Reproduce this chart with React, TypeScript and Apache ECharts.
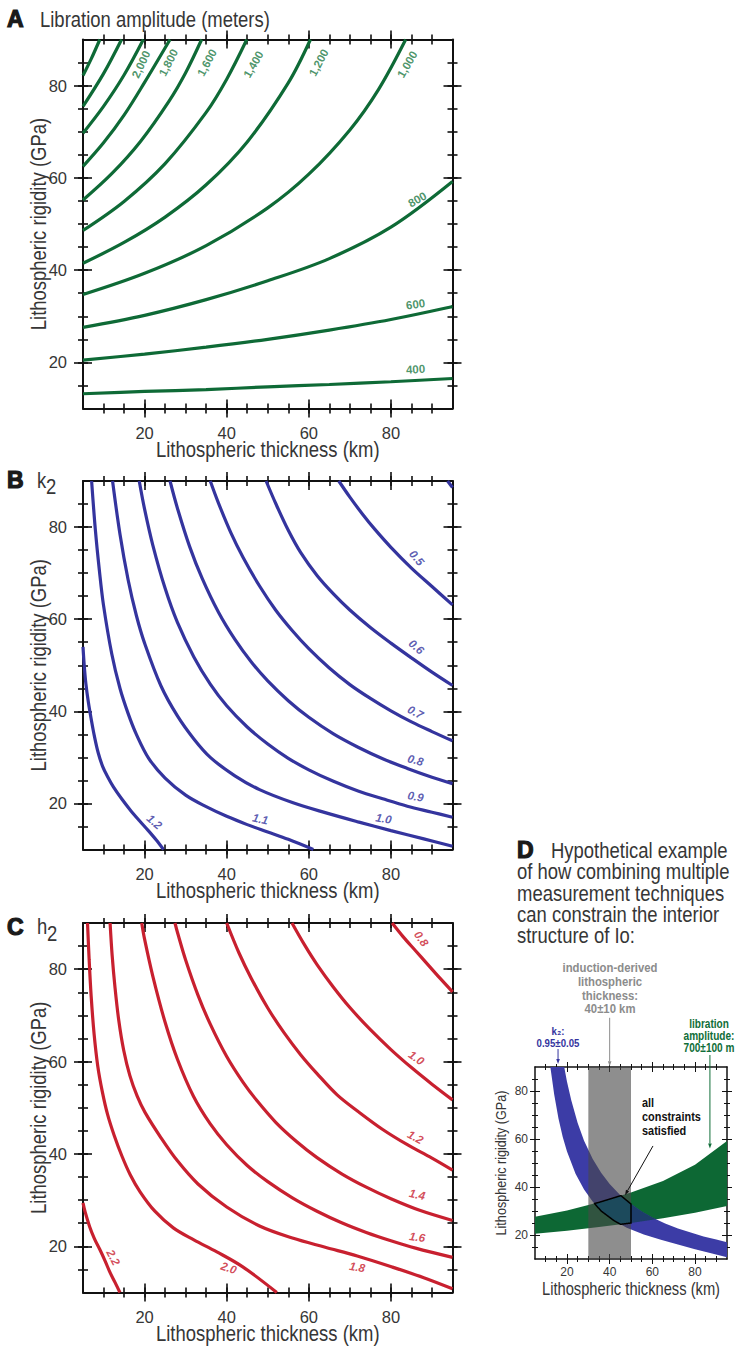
import React, { useEffect, useRef } from "react";
import * as echarts from "echarts";

// ---------- axes ----------
const THICKNESS_RANGE = [5, 95];
const RIGIDITY_RANGE = [10, 90];
const MAJOR_TICKS = [20, 40, 60, 80];
const X_MINOR_TICKS = [10, 15, 20, 25, 30, 35, 40, 45, 50, 55, 60, 65, 70, 75, 80, 85, 90];
const Y_MINOR_TICKS = [15, 20, 25, 30, 35, 40, 45, 50, 55, 60, 65, 70, 75, 80, 85];

// ---------- Panel A: libration amplitude contours (m), points [thickness km, rigidity GPa] ----------
const LIB_400 = [[5, 13.2], [20, 13.7], [35, 14.1], [50, 14.7], [65, 15.2], [80, 15.8], [95, 16.5]];
const LIB_600 = [[5, 20.5], [20, 21.8], [35, 23.3], [50, 25.0], [65, 27.0], [80, 29.3], [95, 32.1]];
const LIB_800 = [[5, 27.6], [20, 30.2], [35, 33.6], [50, 37.7], [65, 42.5], [80, 49.3], [95, 59.2]];
const LIB_1000 = [[5, 34.7], [20, 39.3], [35, 45.3], [50, 53.5], [60, 60.8], [70, 70.4], [77, 79.2], [83.6, 90]];
const LIB_1200 = [[5, 41.5], [15, 46.0], [25, 51.5], [35, 58.5], [45, 67.8], [55, 80.6], [60.4, 90]];
const LIB_1400 = [[5, 48.6], [15, 54.9], [25, 63.1], [35, 74.2], [40, 81.4], [44.9, 90]];
const LIB_1600 = [[5, 55.2], [12, 60.9], [19, 67.9], [26, 76.7], [30, 82.8], [33.9, 90]];
const LIB_1800 = [[5, 62.5], [10, 67.6], [15, 73.6], [20, 80.7], [26.2, 90]];
const LIB_2000 = [[5, 69.7], [10, 75.5], [15, 82.3], [19.7, 90]];
const LIB_2200 = [[5, 75.5], [10, 82.6], [14.4, 90]];
const LIB_2400 = [[5, 82.2], [7, 85.8], [9.1, 90]];
const LIB_LABELS = [
  { text: "2,000", at: [19.1, 84.6], angle: 65 },
  { text: "1,800", at: [25.8, 85.0], angle: 63 },
  { text: "1,600", at: [35.2, 85.0], angle: 62 },
  { text: "1,400", at: [46.5, 84.6], angle: 60 },
  { text: "1,200", at: [62.4, 85.0], angle: 62 },
  { text: "1,000", at: [84.0, 84.6], angle: 60 },
  { text: "800", at: [86.4, 55.3], angle: 30 },
  { text: "600", at: [86.0, 32.6], angle: 8 },
  { text: "400", at: [86.0, 18.5], angle: 3 },
];

// ---------- Panel B: k2 contours ----------
const K2_120 = [[5, 54], [5.3, 50], [5.7, 46], [6.3, 42], [7, 38.3], [7.8, 34.5], [8.7, 31], [9.8, 28], [11, 25.8], [12.4, 23.6], [14.5, 20.9], [16.5, 18.6], [18.7, 16.3], [20.9, 14.1], [22.8, 12.1], [24.6, 10]];
const K2_110 = [[7.1, 90], [8, 79.5], [9, 70.5], [10, 63], [12, 52.5], [14, 45], [16, 39.5], [18, 35], [21, 29.8], [25, 25.5], [30, 21.8], [35, 19.3], [40, 17.2], [45, 15.4], [50, 13.8], [55, 12.2], [61.1, 10]];
const K2_100 = [[12.2, 90], [14, 78.5], [16, 68.5], [18, 60.8], [20, 54.8], [24, 45.5], [28, 39], [32, 34], [36, 30], [42, 26], [48, 23], [56, 20.2], [64, 18], [72, 16], [80, 14.1], [88, 12.3], [95, 10.7]];
const K2_090 = [[18.7, 90], [20, 83.9], [22, 76.1], [25, 66.7], [28, 59.3], [32, 51.8], [36, 45.9], [40, 41.2], [45, 36.6], [50, 32.9], [55, 29.8], [60, 27.3], [66, 24.8], [72, 22.7], [78, 21.0], [84, 19.4], [90, 18.1], [95, 17.0]];
const K2_080 = [[26.2, 90], [28, 84.1], [31, 75.7], [34, 68.9], [38, 61.5], [42, 55.6], [46, 50.7], [50, 46.6], [55, 42.3], [60, 38.7], [66, 35.1], [72, 32.2], [78, 29.7], [84, 27.6], [90, 25.7], [95, 24.3]];
const K2_070 = [[36, 90], [38, 85.2], [41, 78.8], [44, 73.4], [48, 67.2], [52, 61.9], [56, 57.5], [60, 53.6], [65, 49.4], [70, 45.8], [75, 42.8], [80, 40.1], [85, 37.7], [90, 35.6], [95, 33.6]];
const K2_060 = [[49.6, 90], [52, 85], [55, 79.3], [58, 74.5], [62, 69.5], [66, 65.5], [70, 62], [75, 58.2], [80, 54.8], [85, 51.6], [90, 48.5], [95, 45.6]];
const K2_050 = [[67.3, 90], [70, 86.5], [73, 82.9], [76, 79.6], [80, 75.6], [85, 71.1], [90, 67.1], [95, 63.1]];
const K2_040 = [[93.8, 90], [95, 88.6]];
const K2_LABELS = [
  { text: "0.5", at: [86.3, 73.3], angle: -50 },
  { text: "0.6", at: [86.2, 54.0], angle: -40 },
  { text: "0.7", at: [86, 39.8], angle: -28 },
  { text: "0.8", at: [86, 29.4], angle: -15 },
  { text: "0.9", at: [86, 21.5], angle: -10 },
  { text: "1.0", at: [78.2, 16.7], angle: -10 },
  { text: "1.1", at: [48.2, 16.6], angle: -12 },
  { text: "1.2", at: [22.4, 16.0], angle: -40 },
];

// ---------- Panel C: h2 contours ----------
const H2_220 = [[5, 29.4], [5.5, 27.5], [6.6, 24.3], [7.8, 21.6], [9.1, 19.3], [10.4, 16.8], [11.6, 14.3], [12.8, 12.2], [14, 10]];
const H2_200 = [[6.1, 90], [6.5, 82], [7, 74], [7.7, 66], [8.6, 59], [9.7, 53.5], [11, 48.5], [12.6, 44], [14.5, 39.5], [16.5, 35.5], [18.9, 31.8], [22.5, 27.6], [27, 24], [32, 21.4], [37.6, 18.8], [44, 15.5], [52.2, 10]];
const H2_180 = [[11.6, 90], [12.1, 83], [12.8, 76], [13.7, 69], [14.9, 62.5], [16.4, 57], [18.2, 52.5], [20.1, 49], [24, 43.5], [28, 38.5], [33, 33.5], [40, 28.5], [48, 24.4], [56, 21.8], [64, 19.8], [71.8, 17.9], [80, 15.6], [88, 13.2], [95, 10.8]];
const H2_160 = [[19.3, 90], [20, 86.5], [22, 78.5], [25, 68.5], [28, 60.5], [31.9, 52.5], [36, 46.5], [40, 42], [45, 37.5], [50, 34], [56, 30.5], [62, 27.6], [68, 25.1], [74, 23], [80, 21.2], [86, 19.6], [95, 17.6]];
const H2_140 = [[27.4, 90], [28, 88], [30, 82], [33, 74.4], [36, 68.1], [40, 61.1], [44, 55.5], [47.4, 51.5], [52, 46.8], [57, 42.7], [62, 39.2], [68, 35.7], [74, 32.8], [80, 30.3], [87, 27.8], [95, 25.6]];
const H2_120 = [[40, 90], [43, 83.5], [46, 78], [50, 71.6], [54, 66.2], [58, 61.5], [62, 57.4], [66.9, 52.8], [72, 49.2], [78, 45.3], [84, 42], [90, 39.1], [95, 36.5]];
const H2_100 = [[55.9, 90], [59, 85.2], [62, 81], [66, 76.1], [70, 71.7], [75, 66.9], [80, 62.6], [85, 58.7], [90, 55.1], [95, 51.7]];
const H2_080 = [[80.3, 90], [83, 87], [86, 84], [89, 81], [92, 78], [95, 75.1]];
const H2_LABELS = [
  { text: "0.8", at: [87.4, 86.6], angle: -55 },
  { text: "1.0", at: [86.2, 60.8], angle: -35 },
  { text: "1.2", at: [86, 43.6], angle: -28 },
  { text: "1.4", at: [86.4, 31.2], angle: -12 },
  { text: "1.6", at: [86.4, 22.0], angle: -8 },
  { text: "1.8", at: [71.8, 15.5], angle: -10 },
  { text: "2.0", at: [40.5, 15.3], angle: -18 },
  { text: "2.2", at: [12.4, 17.6], angle: -62 },
];

// ---------- Panel D: constraints ----------
const INDUCTION_THICKNESS = [30, 50]; // 40 ± 10 km
const INDUCTION_ARROW = [[40, 110.5], [40, 90.3]];
const K2_ARROW = [[15.8, 97.5], [15.8, 91.2]];
const LIB_ARROW = [[87, 95], [87, 56]];
const POINTER_ARROW = [[60.3, 57.1], [47.2, 36.6]];

const GREEN = "#0e6a36";
const BLUE = "#34349e";
const RED = "#c8202f";
const FONT = "'Liberation Sans', Arial, sans-serif";
const TEXT = "#363636";
const NARROW = 0.84;

type Pt = number[];

function interp(curve: Pt[], x: number): number | null {
  if (x < curve[0][0] || x > curve[curve.length - 1][0]) return null;
  for (let i = 1; i < curve.length; i++) {
    if (x <= curve[i][0]) {
      const [x0, y0] = curve[i - 1];
      const [x1, y1] = curve[i];
      return y0 + ((y1 - y0) * (x - x0)) / (x1 - x0);
    }
  }
  return null;
}

// overlap of the k2 band (0.9–1.0) and the libration band (600–800 m)
function overlapPolygon(xMin: number, xMax: number): Pt[] {
  const upper: Pt[] = [];
  const lower: Pt[] = [];
  const n = Math.round((xMax - xMin) / 0.1);
  for (let i = 0; i <= n; i++) {
    const x = xMin + ((xMax - xMin) * i) / n;
    const g0 = interp(LIB_600, x);
    const g1 = interp(LIB_800, x);
    const b0 = interp(K2_100, x);
    if (g0 == null || g1 == null || b0 == null) continue;
    const b1r = interp(K2_090, x);
    const b1 = b1r == null ? RIGIDITY_RANGE[1] : b1r;
    const lo = Math.max(g0, b0);
    const hi = Math.min(g1, b1);
    if (hi > lo) {
      upper.push([x, hi]);
      lower.push([x, lo]);
    }
  }
  return [...upper, ...lower.reverse()];
}

type AxisCfg = {
  majorLen: number; minorLen: number; lineW: number; tickW: number;
  labelSize: number; labelMargin: number;
};

function buildAxes(dim: "x" | "y", gridIndex: number, cfg: AxisCfg) {
  const positions = dim === "x" ? ["bottom", "top"] : ["left", "right"];
  const range = dim === "x" ? THICKNESS_RANGE : RIGIDITY_RANGE;
  const minor = dim === "x" ? X_MINOR_TICKS : Y_MINOR_TICKS;
  const out: any[] = [];
  for (const position of positions) {
    for (const major of [true, false]) {
      for (const inside of [false, true]) {
        const main = position === positions[0] && major && !inside;
        out.push({
          type: "value",
          gridIndex,
          position,
          min: range[0],
          max: range[1],
          axisLine: { show: major && !inside, onZero: false, lineStyle: { color: "#111", width: cfg.lineW } },
          axisTick: {
            show: true,
            inside,
            length: major ? cfg.majorLen : cfg.minorLen,
            customValues: major ? MAJOR_TICKS : minor,
            lineStyle: { color: "#111", width: cfg.tickW },
          },
          axisLabel: main
            ? { show: true, customValues: MAJOR_TICKS, margin: cfg.labelMargin, color: TEXT, fontSize: cfg.labelSize, fontFamily: FONT }
            : { show: false },
          splitLine: { show: false },
          axisPointer: { show: false },
          silent: true,
        });
      }
    }
  }
  return out;
}

function lineSeries(g: number, data: Pt[], color: string) {
  return {
    type: "line", xAxisIndex: g * 8, yAxisIndex: g * 8, data,
    showSymbol: false, symbol: "none", smooth: 0.35,
    lineStyle: { color, width: 3.2 }, silent: true, clip: true, z: 3,
    emphasis: { disabled: true },
  };
}

function labelSeries(g: number, labels: any[], color: string, italic: boolean) {
  return {
    type: "scatter", xAxisIndex: g * 8, yAxisIndex: g * 8, symbol: "circle", symbolSize: 1,
    itemStyle: { color: "rgba(0,0,0,0)" }, silent: true, z: 6, clip: false,
    emphasis: { disabled: true },
    data: labels.map((l) => ({ value: l.at, name: l.text, label: { rotate: l.angle } })),
    label: {
      show: true, position: "inside", formatter: "{b}", color,
      fontSize: 11.5, fontWeight: "bold", fontStyle: italic ? "italic" : "normal", fontFamily: FONT,
    },
  };
}

function polySeries(g: number, points: Pt[], style: any, z: number) {
  return {
    type: "custom", xAxisIndex: g * 8, yAxisIndex: g * 8, clip: true, silent: true, z,
    data: [points[0]],
    renderItem: (_p: any, api: any) => ({
      type: "polygon",
      shape: { points: points.map((p) => api.coord(p)) },
      style,
    }),
  };
}

function arrow(p1: number[], p2: number[], color: string, w: number, head: number) {
  const dx = p2[0] - p1[0];
  const dy = p2[1] - p1[1];
  const len = Math.hypot(dx, dy);
  const ux = dx / len, uy = dy / len;
  const base = [p2[0] - ux * head * 1.7, p2[1] - uy * head * 1.7];
  const l = [base[0] - uy * head * 0.6, base[1] + ux * head * 0.6];
  const r = [base[0] + uy * head * 0.6, base[1] - ux * head * 0.6];
  return [
    { type: "line", silent: true, z: 100, shape: { x1: p1[0], y1: p1[1], x2: base[0], y2: base[1] }, style: { stroke: color, lineWidth: w } },
    { type: "polygon", silent: true, z: 100, shape: { points: [p2, l, r] }, style: { fill: color } },
  ];
}

function txt(x: number, y: number, text: string, style: any, extra: any = {}) {
  return {
    type: "text", x, y, silent: true, z: 100, scaleX: NARROW, ...extra,
    style: { text, textVerticalAlign: "middle", fontFamily: FONT, ...style },
  };
}

export default function App() {
  const ref = useRef<HTMLDivElement>(null);
  useEffect(() => {
    if (!ref.current) return;
    const chart = echarts.init(ref.current, null, { renderer: "svg" });

    const big: AxisCfg = { majorLen: 9, minorLen: 5, lineW: 2, tickW: 1.6, labelSize: 16.5, labelMargin: 16 };
    const small: AxisCfg = { majorLen: 5, minorLen: 3, lineW: 1.5, tickW: 1, labelSize: 12, labelMargin: 7 };
    const XN = "Lithospheric thickness (km)";
    const YN = "Lithospheric rigidity (GPa)";

    const grids = [
      { left: 83, top: 39.5, width: 369.5, height: 369 },
      { left: 83, top: 481, width: 369.5, height: 368.5 },
      { left: 83, top: 923, width: 369.5, height: 369.5 },
      { left: 535, top: 1067, width: 192, height: 192 },
    ];

    const xAxis = [
      ...buildAxes("x", 0, big), ...buildAxes("x", 1, big),
      ...buildAxes("x", 2, big), ...buildAxes("x", 3, small),
    ];
    const yAxis = [
      ...buildAxes("y", 0, big), ...buildAxes("y", 1, big),
      ...buildAxes("y", 2, big), ...buildAxes("y", 3, small),
    ];

    const libCurves = [LIB_400, LIB_600, LIB_800, LIB_1000, LIB_1200, LIB_1400, LIB_1600, LIB_1800, LIB_2000, LIB_2200, LIB_2400];
    const k2Curves = [K2_120, K2_110, K2_100, K2_090, K2_080, K2_070, K2_060, K2_050, K2_040];
    const h2Curves = [H2_220, H2_200, H2_180, H2_160, H2_140, H2_120, H2_100, H2_080];

    const [t0, t1] = INDUCTION_THICKNESS;
    const [r0, r1] = RIGIDITY_RANGE;
    const series: any[] = [
      ...libCurves.map((c) => lineSeries(0, c, GREEN)),
      labelSeries(0, LIB_LABELS, "#1d7a45", false),
      ...k2Curves.map((c) => lineSeries(1, c, BLUE)),
      labelSeries(1, K2_LABELS, BLUE, true),
      ...h2Curves.map((c) => lineSeries(2, c, RED)),
      labelSeries(2, H2_LABELS, RED, true),
      polySeries(3, [...LIB_600, ...LIB_800.slice().reverse()], { fill: "#0d6834" }, 1),
      polySeries(3, [...K2_100, ...K2_090.slice().reverse()], { fill: "#3c3ca6" }, 2),
      polySeries(3, overlapPolygon(THICKNESS_RANGE[0], THICKNESS_RANGE[1]), { fill: "#1d3d6a" }, 3),
      polySeries(3, [[t0, r0], [t1, r0], [t1, r1], [t0, r1]], { fill: "rgba(72,72,72,0.62)" }, 4),
      polySeries(3, overlapPolygon(t0, t1), { fill: "#1c4a5c", stroke: "#000", lineWidth: 1.5 }, 5),
    ];
    const grayIdx = series.length - 2;

    chart.setOption({
      animation: false,
      backgroundColor: "#fff",
      grid: grids,
      xAxis,
      yAxis,
      series,
    });

    const px = (p: number[]) => chart.convertToPixel({ seriesIndex: grayIdx }, p) as number[];
    const letter = { fill: "#1a1a1a", fontSize: 23, fontWeight: "bold", stroke: "#1a1a1a", lineWidth: 1.2 };
    const head = { fill: TEXT, fontSize: 22 };
    const axName = { fill: TEXT, fontSize: 22, textAlign: "center" };
    const ann = { fontSize: 13.5, fontWeight: "bold", textAlign: "center", lineHeight: 13.7, textVerticalAlign: "top" };

    const axisNames: any[] = [];
    grids.forEach((g, i) => {
      const isD = i === 3;
      const cx = g.left + g.width / 2;
      const cy = g.top + g.height / 2;
      const bottom = g.top + g.height;
      axisNames.push(txt(cx, bottom + (isD ? 30 : 41), XN, { ...axName, fontSize: isD ? 17.5 : 22 }));
      axisNames.push(txt(isD ? 501 : 38, cy, YN, { ...axName, fontSize: isD ? 15 : 22 }, { rotation: Math.PI / 2 }));
    });

    const graphic: any[] = [
      txt(7, 19, "A", letter, { scaleX: 1 }),
      txt(40, 19, "Libration amplitude (meters)", head),
      txt(7, 480, "B", letter, { scaleX: 1 }),
      txt(37, 480, "k", head),
      txt(46, 486, "2", head),
      txt(7, 927, "C", letter, { scaleX: 1 }),
      txt(37, 926, "h", head),
      txt(47, 933, "2", head),
      txt(517, 850, "D", letter, { scaleX: 1 }),
      txt(551, 850, "Hypothetical example", head),
      txt(517, 871, "of how combining multiple", head),
      txt(517, 893, "measurement techniques", head),
      txt(517, 914, "can constrain the interior", head),
      txt(517, 935, "structure of Io:", head),
      ...axisNames,
      txt(610, 961, "induction-derived\nlithospheric\nthickness:\n40±10 km", { ...ann, fill: "#8c8c8c" }),
      txt(558, 1025, "k₂:\n0.95±0.05", { ...ann, fontSize: 11.5, lineHeight: 11.5, fill: BLUE }),
      txt(709, 1018, "libration\namplitude:\n700±100 m", { ...ann, fontSize: 12, lineHeight: 12, fill: "#0f6d38" }),
      txt(642, 1096, "all\nconstraints\nsatisfied", { ...ann, fontSize: 13, lineHeight: 14, textAlign: "left", fill: "#111" }),
      ...arrow(px(INDUCTION_ARROW[0]), px(INDUCTION_ARROW[1]), "#8c8c8c", 1, 3),
      ...arrow(px(K2_ARROW[0]), px(K2_ARROW[1]), BLUE, 1, 3),
      ...arrow(px(LIB_ARROW[0]), px(LIB_ARROW[1]), "#0f6d38", 1, 3),
      ...arrow(px(POINTER_ARROW[0]), px(POINTER_ARROW[1]), "#111", 1, 3),
    ];
    chart.setOption({ graphic });

    return () => chart.dispose();
  }, []);

  return (
    <div
      ref={ref}
      style={{ position: "fixed", left: 0, top: 0, width: 740, height: 1348, background: "#fff" }}
    />
  );
}
